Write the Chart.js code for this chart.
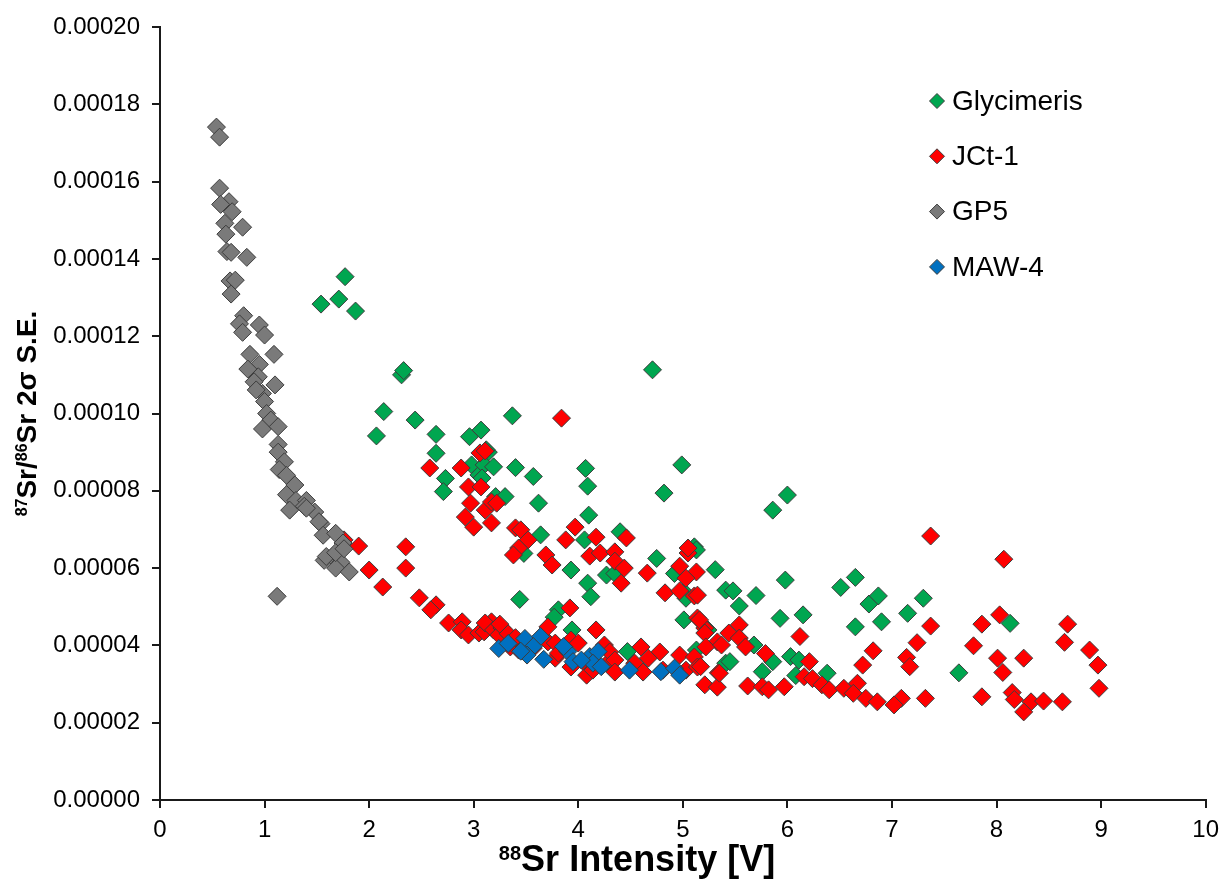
<!DOCTYPE html>
<html>
<head>
<meta charset="utf-8">
<script src="https://cdn.jsdelivr.net/npm/chart.js@4.4.1/dist/chart.umd.min.js"></script>
<style>
html,body{margin:0;padding:0;background:#fff;}
#wrap{width:1227px;height:881px;}
</style>
</head>
<body>
<div id="wrap"><canvas id="c" width="1227" height="881"></canvas></div>
<script>
// ---------- DATA ----------
const seriesNames = ['Glycimeris', 'JCt-1', 'GP5', 'MAW-4'];

const glyX = [1.54,1.71,1.77,1.87,2.31,2.33,2.14,2.44,2.07,2.64,2.96,3.07,2.64,2.73,2.71,3.14,2.98,3.05,3.10,3.21,
  4.71,3.37,4.99,4.82,4.07,4.09,3.19,3.40,3.57,3.62,3.30,4.10,3.64,4.40,4.06,5.11,3.12,3.48,5.13,4.75,
  3.93,4.27,4.35,5.31,4.09,4.12,3.44,4.92,5.01,5.03,3.81,3.77,3.94,5.01,5.41,5.24,4.47,5.13,5.41,5.98,
  5.48,5.70,5.54,6.51,6.65,6.78,6.87,7.30,5.93,6.15,6.65,6.90,7.15,5.68,5.45,5.86,5.76,6.03,6.11,6.08,
  6.38,6.00,5.86,8.13,7.64,3.08];
const glyY = [0.0001283,0.0001296,0.0001354,0.0001265,0.0001100,0.0001111,0.0001005,0.0000983,0.0000942,0.0000946,0.0000940,0.0000957,0.0000897,0.0000832,0.0000798,0.0000900,0.0000867,0.0000841,0.0000867,0.0000785,
  0.0001113,0.0000994,0.0000867,0.0000794,0.0000858,0.0000812,0.0000862,0.0000860,0.0000837,0.0000768,0.0000785,0.0000737,0.0000686,0.0000694,0.0000673,0.0000655,0.0000906,0.0000638,0.0000647,0.0000625,
  0.0000595,0.0000582,0.0000586,0.0000596,0.0000561,0.0000526,0.0000519,0.0000586,0.0000539,0.0000522,0.0000492,0.0000473,0.0000440,0.0000466,0.0000543,0.0000440,0.0000384,0.0000388,0.0000354,0.0000569,
  0.0000541,0.0000529,0.0000502,0.0000550,0.0000576,0.0000507,0.0000528,0.0000522,0.0000470,0.0000479,0.0000448,0.0000461,0.0000483,0.0000401,0.0000358,0.0000358,0.0000332,0.0000371,0.0000362,0.0000322,
  0.0000328,0.0000789,0.0000750,0.0000457,0.0000329,0.0000833];

const jctX = [2.58,2.88,3.06,3.11,2.95,3.07,2.97,2.92,3.00,3.11,3.17,3.17,3.22,3.84,3.40,3.45,3.52,3.97,3.88,4.17,
  4.46,3.43,3.38,3.69,3.75,4.11,4.21,4.35,4.35,4.44,4.41,4.66,4.83,5.05,5.05,4.97,5.13,5.03,4.97,5.11,
  5.14,1.76,1.90,2.00,2.13,2.35,2.35,2.48,2.64,2.59,2.76,2.89,2.88,2.95,3.05,3.10,3.17,3.11,3.19,3.27,
  3.35,3.43,3.57,3.71,3.78,3.92,3.93,4.10,4.29,3.71,3.78,3.93,4.00,3.81,4.17,4.25,4.30,4.35,4.35,4.08,
  4.14,4.60,4.78,4.54,4.62,4.67,4.97,5.11,5.03,5.14,5.14,5.21,5.33,5.34,5.21,5.33,4.81,3.24,5.16,5.21,
  5.22,5.37,5.44,5.54,5.54,5.60,3.25,3.33,3.40,5.62,5.79,5.76,5.82,5.97,6.12,6.21,6.16,6.24,6.33,6.40,
  6.54,6.67,6.63,6.75,6.86,6.82,6.72,7.09,7.02,7.14,7.17,7.24,7.37,7.37,7.32,5.35,5.17,8.07,7.86,8.03,
  8.68,8.65,7.78,8.01,8.26,8.89,8.97,8.06,8.98,7.86,8.15,8.17,8.33,8.26,8.45,8.63];
const jctY = [0.0000859,0.0000859,0.0000898,0.0000903,0.0000810,0.0000810,0.0000768,0.0000732,0.0000706,0.0000750,0.0000771,0.0000717,0.0000768,0.0000988,0.0000704,0.0000699,0.0000673,0.0000706,0.0000673,0.0000680,
  0.0000678,0.0000652,0.0000634,0.0000634,0.0000608,0.0000631,0.0000639,0.0000642,0.0000618,0.0000600,0.0000561,0.0000587,0.0000536,0.0000639,0.0000652,0.0000605,0.0000590,0.0000574,0.0000541,0.0000528,
  0.0000530,0.0000673,0.0000657,0.0000595,0.0000551,0.0000655,0.0000600,0.0000523,0.0000505,0.0000492,0.0000458,0.0000461,0.0000440,0.0000427,0.0000432,0.0000435,0.0000461,0.0000458,0.0000440,0.0000445,
  0.0000396,0.0000388,0.0000393,0.0000409,0.0000367,0.0000497,0.0000344,0.0000344,0.0000357,0.0000448,0.0000406,0.0000414,0.0000406,0.0000380,0.0000440,0.0000401,0.0000383,0.0000362,0.0000331,0.0000323,
  0.0000336,0.0000396,0.0000383,0.0000354,0.0000331,0.0000367,0.0000375,0.0000370,0.0000336,0.0000344,0.0000471,0.0000445,0.0000409,0.0000329,0.0000298,0.0000292,0.0000336,0.0000427,0.0000466,0.0000432,
  0.0000396,0.0000401,0.0000432,0.0000453,0.0000419,0.0000396,0.0000455,0.0000430,0.0000420,0.0000295,0.0000379,0.0000293,0.0000285,0.0000293,0.0000423,0.0000358,0.0000319,0.0000314,0.0000298,0.0000285,
  0.0000289,0.0000302,0.0000276,0.0000263,0.0000254,0.0000386,0.0000349,0.0000263,0.0000246,0.0000369,0.0000345,0.0000407,0.0000450,0.0000683,0.0000263,0.0000328,0.0000345,0.0000623,0.0000455,0.0000479,
  0.0000455,0.0000408,0.0000399,0.0000367,0.0000367,0.0000388,0.0000349,0.0000330,0.0000289,0.0000267,0.0000278,0.0000260,0.0000254,0.0000228,0.0000256,0.0000254];

const gp5X = [0.54,0.57,0.57,0.66,0.58,0.69,0.62,0.79,0.63,0.64,0.68,0.83,0.67,0.72,0.68,0.80,0.76,0.79,0.95,1.00,
  0.86,1.09,0.95,0.84,0.94,0.90,1.10,0.98,0.92,1.00,1.02,1.06,0.98,1.13,1.13,1.13,1.19,1.14,1.21,1.29,
  1.21,1.30,1.40,1.24,1.38,1.48,1.40,1.54,1.52,1.56,1.68,1.75,1.57,1.65,1.73,1.68,1.59,1.68,1.76,1.81,1.12];
const gp5Y = [0.0001741,0.0001715,0.0001583,0.0001548,0.0001541,0.0001522,0.0001492,0.0001482,0.0001464,0.0001419,0.0001417,0.0001404,0.0001343,0.0001345,0.0001309,0.0001253,0.0001232,0.0001210,0.0001229,0.0001203,
  0.0001153,0.0001153,0.0001127,0.0001115,0.0001095,0.0001082,0.0001074,0.0001052,0.0001061,0.0001031,0.0001000,0.0000983,0.0000960,0.0000966,0.0000920,0.0000900,0.0000875,0.0000855,0.0000840,0.0000815,
  0.0000790,0.0000775,0.0000775,0.0000750,0.0000760,0.0000745,0.0000755,0.0000715,0.0000720,0.0000685,0.0000690,0.0000665,0.0000620,0.0000630,0.0000615,0.0000600,0.0000630,0.0000640,0.0000650,0.0000590,0.0000527];

const mawX = [3.24,3.33,3.49,3.64,3.57,3.51,3.67,3.90,3.95,4.11,4.19,4.14,4.22,4.03,4.49,4.79,4.92,4.97,3.86,3.45];
const mawY = [0.0000392,0.0000405,0.0000418,0.0000423,0.0000397,0.0000375,0.0000364,0.0000384,0.0000358,0.0000371,0.0000384,0.0000354,0.0000345,0.0000362,0.0000336,0.0000332,0.0000341,0.0000323,0.0000397,0.0000385];

const xTickValues = [0,1,2,3,4,5,6,7,8,9,10];
const yTickValues = [0,0.00002,0.00004,0.00006,0.00008,0.00010,0.00012,0.00014,0.00016,0.00018,0.00020];

// axis titles: [superscript, text] pieces
const xTitleParts = [['88', true], ['Sr Intensity [V]', false]];
const yTitleParts = [['87', true], ['Sr/', false], ['86', true], ['Sr 2\u03C3 S.E.', false]];

const fillColors = ['#00A650', '#FF0000', '#7A7A7A', '#0070C0'];
// ---------- END DATA ----------

function pairs(xs, ys){ return xs.map((x,i)=>({x:x, y:ys[i]})); }

const seriesData = [pairs(glyX,glyY), pairs(jctX,jctY), pairs(gp5X,gp5Y), pairs(mawX,mawY)];

const datasets = seriesNames.map((name,i)=>({
  label: name,
  data: seriesData[i],
  pointStyle: 'rectRot',
  pointRadius: 9,
  pointHoverRadius: 9,
  pointBackgroundColor: fillColors[i],
  pointBorderColor: '#3c3c3c',
  pointBorderWidth: 1,
  showLine: false,
  order: seriesNames.length - i
}));

const FONT = '"Liberation Sans", Arial, sans-serif';

const insideLegend = {
  id: 'insideLegend',
  afterDraw(chart){
    const ctx = chart.ctx;
    const ca = chart.chartArea;
    const x0 = ca.left + 777;
    const y0 = ca.top + 74;
    const step = 55.3;
    ctx.save();
    chart.data.datasets.forEach((ds,i)=>{
      const cx = x0, cy = y0 + i*step, r = 7.5;
      ctx.beginPath();
      ctx.moveTo(cx, cy - r);
      ctx.lineTo(cx + r, cy);
      ctx.lineTo(cx, cy + r);
      ctx.lineTo(cx - r, cy);
      ctx.closePath();
      ctx.fillStyle = ds.pointBackgroundColor;
      ctx.fill();
      ctx.lineWidth = 1;
      ctx.strokeStyle = '#3c3c3c';
      ctx.stroke();
      ctx.fillStyle = '#000';
      ctx.font = '28px ' + FONT;
      ctx.textAlign = 'left';
      ctx.textBaseline = 'middle';
      ctx.fillText(ds.label, cx + 15, cy + 1);
    });
    ctx.restore();
  }
};

function drawRichTitle(ctx, parts, size, cx, baseY, rotate){
  const supSize = Math.round(size * 0.56);
  const mainFont = 'bold ' + size + 'px ' + FONT;
  const supFont = 'bold ' + supSize + 'px ' + FONT;
  let total = 0;
  const widths = parts.map(([t, sup]) => { ctx.font = sup ? supFont : mainFont; const w = ctx.measureText(t).width; total += w; return w; });
  const rise = 0.716 * (size - supSize);
  ctx.save();
  ctx.translate(cx, baseY);
  if (rotate) ctx.rotate(-Math.PI/2);
  ctx.fillStyle = '#000';
  ctx.textAlign = 'left';
  ctx.textBaseline = 'alphabetic';
  let x = -total/2;
  parts.forEach(([t, sup], i) => {
    ctx.font = sup ? supFont : mainFont;
    ctx.fillText(t, x, sup ? -rise : 0);
    x += widths[i];
  });
  ctx.restore();
}

const axisTitles = {
  id: 'axisTitles',
  afterDraw(chart){
    const ctx = chart.ctx;
    const ca = chart.chartArea;
    // x title
    drawRichTitle(ctx, xTitleParts, 36, ca.left + 477, 871, false);
    // y title (rotated): baseline on the right side of the glyphs
    const ySize = 28;
    drawRichTitle(ctx, yTitleParts, ySize, 26 + 0.716*ySize/2, (ca.top + ca.bottom)/2, true);
  }
};

new Chart(document.getElementById('c'), {
  type: 'scatter',
  data: { datasets },
  options: {
    responsive: false,
    devicePixelRatio: 1,
    animation: false,
    events: [],
    layout: { padding: { top: 27, right: 17, left: 0, bottom: 0 } },
    plugins: {
      legend: { display: false },
      tooltip: { enabled: false }
    },
    scales: {
      x: {
        type: 'linear',
        min: 0, max: 10,
        afterFit(s){ s.height = 81; },
        afterBuildTicks(s){ s.ticks = xTickValues.map(v=>({value:v})); },
        ticks: { color: '#000', font: { family: FONT, size: 24 }, padding: 8, autoSkip: false, maxRotation: 0,
          callback: v => String(v) },
        grid: { display: true, drawOnChartArea: false, drawTicks: true, tickLength: 8, color: '#1a1a1a', lineWidth: 2 },
        border: { display: true, color: '#1a1a1a', width: 2 },
        title: { display: false }
      },
      y: {
        type: 'linear',
        min: 0, max: 0.0002,
        afterFit(s){ s.width = 160; },
        afterBuildTicks(s){ s.ticks = yTickValues.map(v=>({value:v})); },
        ticks: { color: '#000', font: { family: FONT, size: 24 }, padding: 12, autoSkip: false,
          callback: v => Number(v).toFixed(5) },
        grid: { display: true, drawOnChartArea: false, drawTicks: true, tickLength: 8, color: '#1a1a1a', lineWidth: 2 },
        border: { display: true, color: '#1a1a1a', width: 2 },
        title: { display: false }
      }
    }
  },
  plugins: [insideLegend, axisTitles]
});
</script>
</body>
</html>
